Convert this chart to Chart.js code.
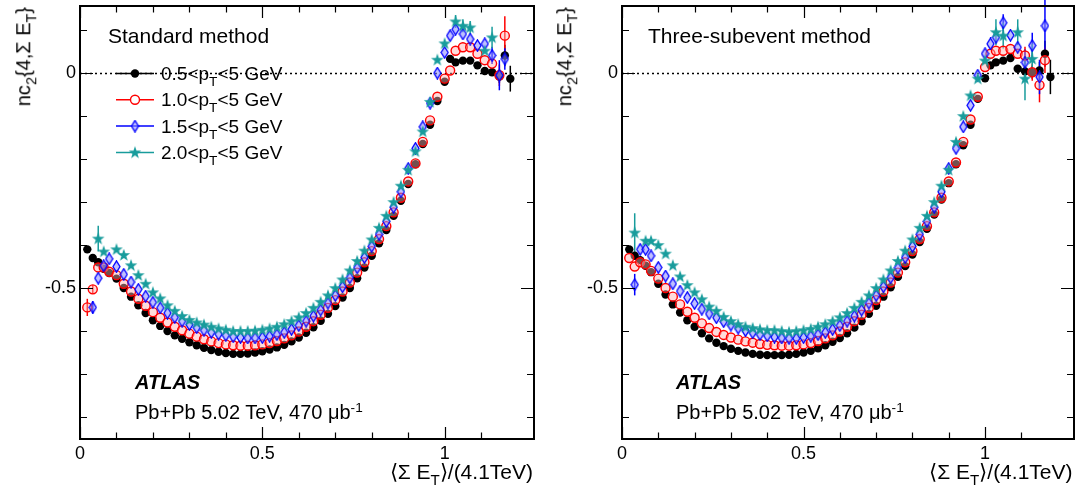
<!DOCTYPE html>
<html>
<head>
<meta charset="utf-8">
<script src="https://cdn.jsdelivr.net/npm/chart.js@4.4.1/dist/chart.umd.min.js"></script>
<style>
  body { margin: 0; background: #fff; width: 1081px; height: 495px; overflow: hidden; font-family: "Liberation Sans", Arial, sans-serif; }
  .panel { position: absolute; top: 0; height: 495px; }
  .panel canvas { position: absolute; left: 0; top: 0; }
  .txt { position: absolute; white-space: nowrap; line-height: 1; color: #000; pointer-events: none; }
  .txt sub { font-size: 0.72em; vertical-align: -0.42em; line-height: 0; }
  .txt sup { font-size: 0.68em; vertical-align: 0.55em; line-height: 0; }
  .ytitle { transform-origin: 100% 0; transform: rotate(-90deg); }
</style>
</head>
<body>
<div class="panel" id="left" style="left:0;width:540px">
  <canvas id="c1" width="540" height="495"></canvas>
</div>
<div class="panel" id="right" style="left:540px;width:541px">
  <canvas id="c2" width="541" height="495"></canvas>
</div>
<script>
// x positions: <Sum ET>/(4.1 TeV)
const xs = [0.02, 0.035, 0.05, 0.065, 0.08,
  0.1, 0.12, 0.14, 0.16, 0.18, 0.2, 0.22, 0.24, 0.26, 0.28, 0.3, 0.32, 0.34, 0.36, 0.38, 0.4, 0.42, 0.44, 0.46, 0.48,
  0.5, 0.52, 0.54, 0.56, 0.58, 0.6, 0.62, 0.64, 0.66, 0.68, 0.7, 0.72, 0.74, 0.76, 0.78, 0.8, 0.82, 0.84, 0.86, 0.88,
  0.9, 0.92, 0.94, 0.96, 0.98,
  1.0, 1.015, 1.03, 1.05, 1.07, 1.09, 1.11, 1.13, 1.15, 1.165, 1.18];

// standard method
const blk1 = [-0.41, -0.43, -0.44, -0.455, -0.465,
  -0.478, -0.5, -0.52, -0.54, -0.558, -0.575, -0.588, -0.6, -0.61, -0.618, -0.626, -0.633, -0.639, -0.644, -0.648, -0.651, -0.653, -0.653, -0.652, -0.65,
  -0.647, -0.643, -0.638, -0.632, -0.624, -0.615, -0.604, -0.591, -0.576, -0.56, -0.542, -0.522, -0.5, -0.477, -0.452, -0.425, -0.396, -0.365, -0.332, -0.297,
  -0.258, -0.212, -0.165, -0.12, -0.065,
  -0.02, 0.033, 0.025, 0.029, 0.029, 0.018, 0.005, 0.002, -0.008, 0.041, -0.013];
const red1 = [-0.545, -0.503, -0.452, -0.452, -0.462,
  -0.47, -0.49, -0.508, -0.525, -0.541, -0.556, -0.569, -0.58, -0.59, -0.598, -0.606, -0.613, -0.619, -0.624, -0.628, -0.631, -0.633, -0.634, -0.634, -0.633,
  -0.631, -0.628, -0.623, -0.617, -0.61, -0.601, -0.59, -0.577, -0.562, -0.546, -0.528, -0.508, -0.487, -0.464, -0.44, -0.414, -0.386, -0.356, -0.324, -0.29,
  -0.252, -0.21, -0.16, -0.11, -0.055,
  -0.013, 0.006, 0.052, 0.06, 0.06, 0.045, 0.03, 0.022, -0.005, 0.087, null];
const blu1 = [null, -0.545, -0.477, -0.448, -0.432,
  -0.45, -0.468, -0.486, -0.503, -0.519, -0.533, -0.546, -0.558, -0.568, -0.577, -0.585, -0.592, -0.598, -0.603, -0.607, -0.61, -0.613, -0.615, -0.616, -0.616,
  -0.615, -0.612, -0.608, -0.603, -0.596, -0.587, -0.577, -0.565, -0.551, -0.535, -0.517, -0.497, -0.476, -0.453, -0.429, -0.403, -0.375, -0.345, -0.312, -0.276,
  -0.222, -0.175, -0.125, -0.07, 0.0,
  0.048, 0.087, 0.102, 0.091, 0.079, 0.064, 0.068, 0.041, -0.005, 0.033, null];
const tea1 = [null, null, -0.385, -0.415, null,
  -0.41, -0.423, -0.447, -0.47, -0.49, -0.51, -0.524, -0.54, -0.553, -0.565, -0.574, -0.58, -0.585, -0.59, -0.594, -0.597, -0.6, -0.6, -0.6, -0.599,
  -0.597, -0.594, -0.59, -0.584, -0.577, -0.568, -0.558, -0.546, -0.532, -0.517, -0.5, -0.48, -0.459, -0.437, -0.413, -0.387, -0.36, -0.332, -0.3, -0.262,
  -0.225, -0.182, -0.136, -0.067, 0.031,
  0.069, null, 0.12, 0.11, 0.106, null, 0.052, 0.083, null, null, null];

// three-subevent method
const blk2 = [-0.41, -0.425, -0.435, -0.448, -0.463,
  -0.49, -0.515, -0.538, -0.557, -0.575, -0.59, -0.605, -0.617, -0.627, -0.635, -0.641, -0.646, -0.65, -0.653, -0.655, -0.656, -0.656, -0.656, -0.655, -0.653,
  -0.65, -0.646, -0.64, -0.633, -0.625, -0.616, -0.605, -0.592, -0.577, -0.56, -0.541, -0.52, -0.498, -0.474, -0.449, -0.422, -0.393, -0.362, -0.329, -0.294,
  -0.256, -0.212, -0.168, -0.12, -0.06,
  -0.012, 0.018, 0.025, 0.029, 0.035, 0.01, 0.004, 0.002, 0.006, 0.045, -0.009];
const red2 = [-0.43, -0.45, -0.44, -0.445, -0.46,
  -0.478, -0.5, -0.52, -0.538, -0.555, -0.569, -0.582, -0.593, -0.602, -0.609, -0.615, -0.62, -0.624, -0.627, -0.63, -0.632, -0.633, -0.634, -0.634, -0.633,
  -0.631, -0.628, -0.623, -0.617, -0.61, -0.601, -0.59, -0.577, -0.562, -0.546, -0.528, -0.508, -0.487, -0.464, -0.44, -0.414, -0.386, -0.356, -0.324, -0.29,
  -0.252, -0.208, -0.16, -0.108, -0.055,
  0.014, 0.045, 0.052, 0.052, 0.056, 0.045, 0.041, 0.002, -0.028, 0.03, null];
const blu2 = [null, -0.492, -0.41, -0.41, -0.425,
  -0.452, -0.472, -0.49, -0.507, -0.522, -0.536, -0.549, -0.56, -0.569, -0.578, -0.586, -0.593, -0.599, -0.604, -0.608, -0.611, -0.614, -0.616, -0.617, -0.617,
  -0.615, -0.612, -0.608, -0.603, -0.596, -0.587, -0.577, -0.565, -0.551, -0.535, -0.517, -0.497, -0.476, -0.453, -0.429, -0.403, -0.375, -0.345, -0.312, -0.276,
  -0.222, -0.175, -0.125, -0.075, -0.005,
  0.045, 0.068, 0.083, 0.117, 0.088, 0.06, 0.025, 0.064, -0.009, 0.11, null];
const tea2 = [null, -0.371, null, -0.39, -0.39,
  -0.4, -0.42, -0.447, -0.473, -0.493, -0.51, -0.526, -0.543, -0.553, -0.567, -0.577, -0.584, -0.59, -0.593, -0.596, -0.598, -0.598, -0.6, -0.602, -0.6,
  -0.598, -0.595, -0.59, -0.584, -0.577, -0.568, -0.558, -0.546, -0.532, -0.517, -0.5, -0.48, -0.459, -0.437, -0.413, -0.387, -0.36, -0.332, -0.3, -0.262,
  -0.225, -0.16, -0.1, -0.052, -0.013,
  0.029, null, 0.095, 0.087, null, 0.095, -0.013, 0.033, null, null, null];

// statistical errors shown as bars: [point index, half-length]
const eBlk1 = [[58, 0.015], [59, 0.025], [60, 0.03]];
const eRed1 = [[0, 0.02], [1, 0.01], [58, 0.025], [59, 0.045]];
const eBlu1 = [[1, 0.015], [57, 0.02], [58, 0.035], [59, 0.025]];
const eTea1 = [[2, 0.03], [52, 0.015], [53, 0.015], [54, 0.015], [57, 0.025]];
const eBlk2 = [[57, 0.015], [58, 0.02], [59, 0.03], [60, 0.04]];
const eRed2 = [[56, 0.02], [57, 0.02], [58, 0.04], [59, 0.03]];
const eBlu2 = [[1, 0.025], [53, 0.02], [56, 0.03], [57, 0.03], [58, 0.04], [59, 0.06]];
const eTea2 = [[1, 0.045], [52, 0.03], [53, 0.03], [55, 0.03], [56, 0.05], [57, 0.035]];

const ptLow = ['0.5', '1.0', '1.5', '2.0'];
const xLabels = [0, 0.5, 1];
const yLabels = [0, -0.5];

const FONT = '"Liberation Sans", Arial, sans-serif';
const BLACK = '#000000', RED = '#ff0000', BLUE = '#0000ff', TEAL = '#189c9c';

function makeStar() {
  const cv = document.createElement('canvas');
  cv.width = 14; cv.height = 14;
  const c = cv.getContext('2d');
  c.beginPath();
  for (let k = 0; k < 10; k++) {
    const r = k % 2 ? 2.6 : 6.6;
    const a = -Math.PI / 2 + k * Math.PI / 5;
    c.lineTo(7 + r * Math.cos(a), 7.4 + r * Math.sin(a));
  }
  c.closePath();
  c.fillStyle = TEAL;
  c.fill();
  return cv;
}

function makeDiamond() {
  const cv = document.createElement('canvas');
  cv.width = 9; cv.height = 13;
  const c = cv.getContext('2d');
  c.beginPath();
  c.moveTo(4.5, 0.8); c.lineTo(8, 6.5); c.lineTo(4.5, 12.2); c.lineTo(1, 6.5);
  c.closePath();
  c.fillStyle = 'rgba(140,140,255,0.55)';
  c.fill();
  c.strokeStyle = BLUE; c.lineWidth = 1.3;
  c.stroke();
  return cv;
}

const STAR = makeStar();
const DIAMOND = makeDiamond();

function toPoints(ys) {
  return xs.map((x, i) => ({ x: x, y: ys[i] })).filter(p => p.y !== null);
}

function near(v, list) {
  return list.some(t => Math.abs(v - t) < 1e-6);
}

function drawMarker(ctx, k, px, py) {
  if (k === 0) {
    ctx.beginPath(); ctx.arc(px, py, 4.2, 0, 2 * Math.PI);
    ctx.fillStyle = BLACK; ctx.fill();
  } else if (k === 1) {
    ctx.beginPath(); ctx.arc(px, py, 4.5, 0, 2 * Math.PI);
    ctx.fillStyle = '#fff'; ctx.fill();
    ctx.strokeStyle = RED; ctx.lineWidth = 1.4; ctx.stroke();
  } else if (k === 2) {
    ctx.drawImage(DIAMOND, px - DIAMOND.width / 2, py - DIAMOND.height / 2);
  } else {
    ctx.drawImage(STAR, px - STAR.width / 2, py - STAR.height / 2);
  }
}

function framePlugin(series, errs, withLegend) {
  const colors = [BLACK, RED, BLUE, TEAL];
  return {
    id: 'frame',
    beforeDatasetsDraw(chart) {
      const { ctx, chartArea: a, scales: { x, y } } = chart;
      ctx.save();
      const y0 = Math.round(y.getPixelForValue(0)) + 0.5;
      ctx.setLineDash([2, 3]);
      ctx.lineWidth = 1.3;
      ctx.strokeStyle = '#000';
      ctx.beginPath(); ctx.moveTo(a.left, y0); ctx.lineTo(a.right, y0); ctx.stroke();
      ctx.setLineDash([]);
      series.forEach((s, k) => {
        ctx.strokeStyle = colors[k];
        ctx.lineWidth = 1.5;
        errs[k].forEach(([i, e]) => {
          if (s[i] === null) return;
          const px = x.getPixelForValue(xs[i]);
          ctx.beginPath();
          ctx.moveTo(px, y.getPixelForValue(s[i] - e));
          ctx.lineTo(px, y.getPixelForValue(s[i] + e));
          ctx.stroke();
        });
      });
      ctx.restore();
    },
    afterDatasetsDraw(chart) {
      const { ctx, chartArea: a, scales: { x, y } } = chart;
      ctx.save();
      ctx.strokeStyle = '#000';
      ctx.lineWidth = 1.2;
      ctx.beginPath();
      x.ticks.forEach(t => {
        const v = t.value;
        if (Math.abs(v * 10 - Math.round(v * 10)) > 1e-6) return;
        const len = near(v, [0, 0.5, 1]) ? 12 : 6.5;
        const px = Math.round(x.getPixelForValue(v)) + 0.5;
        ctx.moveTo(px, a.bottom); ctx.lineTo(px, a.bottom - len);
        ctx.moveTo(px, a.top); ctx.lineTo(px, a.top + len);
      });
      y.ticks.forEach(t => {
        const v = t.value;
        if (Math.abs(v * 10 - Math.round(v * 10)) > 1e-6) return;
        const len = near(v, [0, -0.5]) ? 13 : 7;
        const py = Math.round(y.getPixelForValue(v)) + 0.5;
        ctx.moveTo(a.left, py); ctx.lineTo(a.left + len, py);
        ctx.moveTo(a.right, py); ctx.lineTo(a.right - len, py);
      });
      ctx.stroke();
      ctx.lineWidth = 2;
      ctx.strokeRect(a.left, a.top, a.right - a.left, a.bottom - a.top);

      if (withLegend) {
        const rows = [73.5, 99.8, 126.1, 152.4];
        rows.forEach((ry, k) => {
          ctx.strokeStyle = colors[k];
          ctx.lineWidth = 1.5;
          ctx.beginPath(); ctx.moveTo(116, ry); ctx.lineTo(154, ry); ctx.stroke();
          drawMarker(ctx, k, 135, ry);
        });
      }
      ctx.restore();
    }
  };
}

function buildChart(canvasId, series, errs, yWidth, padRight, withLegend) {
  const styles = [
    { label: ptLow[0], pointStyle: 'circle', pointRadius: 4.2, backgroundColor: BLACK, borderColor: BLACK, borderWidth: 0, order: 3 },
    { label: ptLow[1], pointStyle: 'circle', pointRadius: 4.5, backgroundColor: 'rgba(255,175,175,0.45)', borderColor: RED, borderWidth: 1.4, order: 2 },
    { label: ptLow[2], pointStyle: DIAMOND, pointRadius: 5, backgroundColor: BLUE, borderColor: BLUE, borderWidth: 1, order: 1 },
    { label: ptLow[3], pointStyle: STAR, pointRadius: 5, backgroundColor: TEAL, borderColor: TEAL, borderWidth: 1, order: 0 }
  ];
  const datasets = series.map((s, k) => Object.assign({ data: toPoints(s), showLine: false }, styles[k]));
  const tickFont = { family: FONT, size: 18 };
  const noPad = s => { s.paddingTop = 0; s.paddingBottom = 0; s.paddingLeft = 0; s.paddingRight = 0; };
  return new Chart(document.getElementById(canvasId), {
    type: 'scatter',
    data: { datasets: datasets },
    options: {
      responsive: false,
      devicePixelRatio: 1,
      animation: false,
      events: [],
      layout: { padding: { top: 5, right: padRight, bottom: 0, left: 0 } },
      plugins: { legend: { display: false }, tooltip: { enabled: false } },
      scales: {
        x: {
          type: 'linear', min: 0, max: 1.245,
          grid: { display: false, drawTicks: false },
          border: { display: false },
          ticks: {
            stepSize: 0.1, autoSkip: false, maxRotation: 0, padding: 4,
            color: '#000', font: tickFont,
            callback: v => near(v, xLabels) ? String(Math.round(v * 10) / 10) : ''
          },
          afterFit: s => { s.height = 56; noPad(s); }
        },
        y: {
          type: 'linear', min: -0.851, max: 0.156,
          grid: { display: false, drawTicks: false },
          border: { display: false },
          ticks: {
            stepSize: 0.1, autoSkip: false, padding: 4,
            color: '#000', font: tickFont,
            callback: v => near(v, yLabels) ? String(Math.round(v * 10) / 10) : ''
          },
          afterFit: s => { s.width = yWidth; noPad(s); }
        }
      }
    },
    plugins: [framePlugin(series, errs, withLegend)]
  });
}

// text placed by baseline; line-height 1 puts the baseline 0.8465 em below the box top
function addText(panelId, html, left, baseline, size, extra) {
  const d = document.createElement('div');
  d.className = 'txt';
  d.innerHTML = html;
  d.style.fontSize = size + 'px';
  d.style.top = (baseline - 0.8465 * size) + 'px';
  if (left !== null) d.style.left = left + 'px';
  Object.assign(d.style, extra || {});
  document.getElementById(panelId).appendChild(d);
  return d;
}

function addYTitle(panelId, panelWidth, xTop) {
  const d = document.createElement('div');
  d.className = 'txt ytitle';
  d.innerHTML = 'nc<sub>2</sub>{4,&Sigma; E<sub>T</sub>}';
  d.style.fontSize = '20px';
  d.style.top = '7px';
  d.style.right = (panelWidth - xTop) + 'px';
  document.getElementById(panelId).appendChild(d);
}

buildChart('c1', [blk1, red1, blu1, tea1], [eBlk1, eRed1, eBlu1, eTea1], 80, 5, true);
buildChart('c2', [blk2, red2, blu2, tea2], [eBlk2, eRed2, eBlu2, eTea2], 82, 7, false);

const xTitle = '&#10216;&Sigma; E<sub>T</sub>&#10217;/(4.1TeV)';
const lumi = 'Pb+Pb 5.02 TeV, 470 &mu;b<sup>-1</sup>';

addText('left', 'Standard method', 108, 43, 21);
const legBase = [80, 106.3, 132.6, 158.9];
ptLow.forEach((lo, k) => addText('left', lo + '&lt;p<sub>T</sub>&lt;5 GeV', 161, legBase[k], 19));
addText('left', 'ATLAS', 135, 388.5, 20, { fontWeight: 'bold', fontStyle: 'italic' });
addText('left', lumi, 135, 419, 20);
addText('left', xTitle, null, 479, 21, { right: '7px' });
addYTitle('left', 540, 13);

addText('right', 'Three-subevent method', 108, 43, 21);
addText('right', 'ATLAS', 136, 388.5, 20, { fontWeight: 'bold', fontStyle: 'italic' });
addText('right', lumi, 136, 419, 20);
addText('right', xTitle, null, 479, 21, { right: '8.5px' });
addYTitle('right', 541, 14);
</script>
</body>
</html>
